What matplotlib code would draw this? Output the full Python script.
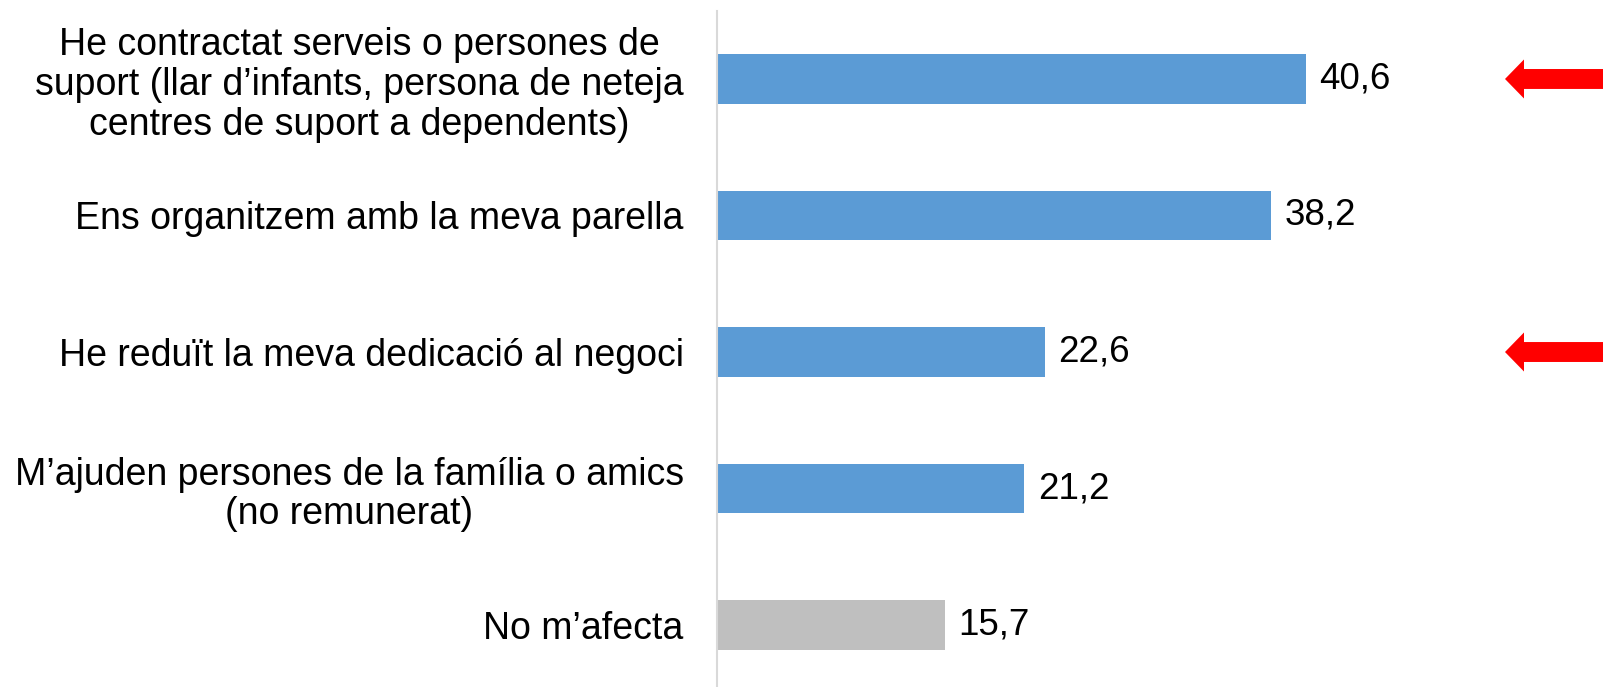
import matplotlib
matplotlib.use("Agg")
import matplotlib.pyplot as plt
from matplotlib.patches import Polygon
from matplotlib.transforms import blended_transform_factory

categories = [
    "He contractat serveis o persones de\nsuport (llar d\u2019infants, persona de neteja\ncentres de suport a dependents)",
    "Ens organitzem amb la meva parella",
    "He redu\u00eft la meva dedicaci\u00f3 al negoci",
    "M\u2019ajuden persones de la fam\u00edlia o amics\n(no remunerat)",
    "No m\u2019afecta",
]
values = [40.6, 38.2, 22.6, 21.2, 15.7]
value_labels = ["40,6", "38,2", "22,6", "21,2", "15,7"]
bar_colors = ["#5B9BD5", "#5B9BD5", "#5B9BD5", "#5B9BD5", "#BFBFBF"]
highlighted = [0, 2]

plt.rcParams['font.family'] = ['Liberation Sans', 'DejaVu Sans']

W, H = 1603, 687
fig = plt.figure(figsize=(W / 100, H / 100), dpi=100)
ax = fig.add_axes([717 / W, 0.0, 725 / W, 676 / H])

ypos = list(range(len(categories)))
ax.barh(ypos, values, height=0.36, color=bar_colors)
ax.set_xlim(0, 50)
ax.set_ylim(4.454, -0.498)

for y, v, lab in zip(ypos, values, value_labels):
    ax.annotate(lab, (v, y), xytext=(10, 0), textcoords="offset points",
                va="center", ha="left", fontsize=26.5)

ax.set_yticks(ypos)
ax.set_yticklabels(categories, fontsize=27, linespacing=1.14, multialignment="center")
ax.tick_params(axis="y", length=0, pad=24)
ax.set_xticks([])
for s in ["top", "right", "bottom"]:
    ax.spines[s].set_visible(False)
ax.spines["left"].set_color("#D9D9D9")
ax.spines["left"].set_linewidth(1.5)

tr = blended_transform_factory(fig.transFigure, ax.transData)
tip = 1505 / W
base = 1524 / W
hh, sh = 0.143, 0.073
for i in highlighted:
    y = ypos[i]
    pts = [(tip, y), (base, y - hh), (base, y - sh), (1.0, y - sh),
           (1.0, y + sh), (base, y + sh), (base, y + hh)]
    fig.add_artist(Polygon(pts, closed=True, transform=tr, color="#FF0000", lw=0))

fig.savefig("out.png", dpi=100)
